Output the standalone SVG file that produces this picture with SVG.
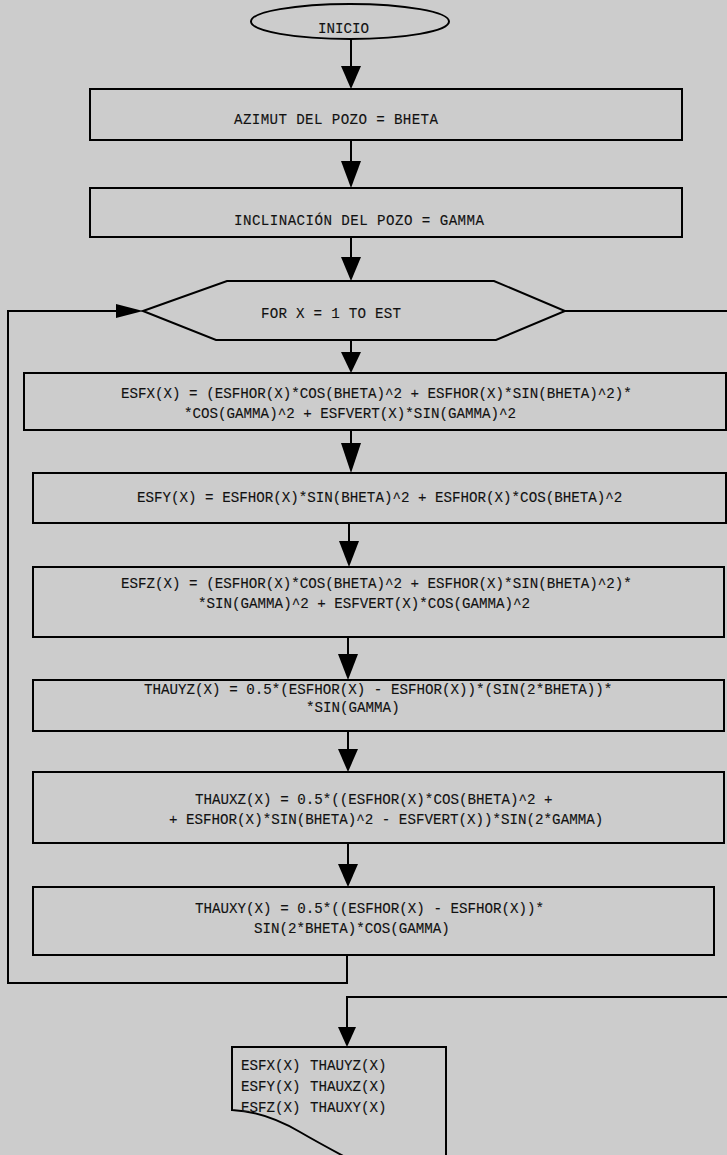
<svg xmlns="http://www.w3.org/2000/svg" width="727" height="1155" viewBox="0 0 727 1155">
  <style>
    .shape { fill: none; stroke: #000; stroke-width: 2; }
    .line { fill: none; stroke: #000; stroke-width: 2; }
    .head { fill: #000; stroke: none; }
    text { font-family: "Liberation Mono", "DejaVu Sans Mono", monospace; font-size: 14.2px; fill: #111; stroke: #111; stroke-width: 0.12; }
  </style>
  <rect width="727" height="1155" fill="#cccccc"/>

  <!-- start terminal -->
  <g id="inicio">
    <ellipse class="shape" cx="350" cy="21.5" rx="99" ry="17.5"/>
    <text x="318" y="33">INICIO</text>
  </g>

  <g id="azimut">
    <rect class="shape" x="90" y="89" width="592" height="51"/>
    <text x="234" y="124" textLength="204">AZIMUT DEL POZO = BHETA</text>
  </g>

  <g id="inclinacion">
    <rect class="shape" x="90" y="188" width="592" height="49"/>
    <text x="234" y="225" textLength="250">INCLINACIÓN DEL POZO = GAMMA</text>
  </g>

  <!-- loop header -->
  <g id="for-loop">
    <polygon class="shape" points="143,311 227,281 494,281 565,311 496,340 216,340"/>
    <text x="261" y="318" textLength="140">FOR X = 1 TO EST</text>
  </g>

  <g id="esfx">
    <rect class="shape" x="24" y="373" width="702" height="57"/>
    <text x="121" y="398">ESFX(X) = (ESFHOR(X)*COS(BHETA)^2 + ESFHOR(X)*SIN(BHETA)^2)*</text>
    <text x="184" y="418">*COS(GAMMA)^2 + ESFVERT(X)*SIN(GAMMA)^2</text>
  </g>

  <g id="esfy">
    <rect class="shape" x="33" y="473" width="693" height="50"/>
    <text x="137" y="502">ESFY(X) = ESFHOR(X)*SIN(BHETA)^2 + ESFHOR(X)*COS(BHETA)^2</text>
  </g>

  <g id="esfz">
    <rect class="shape" x="33" y="567" width="691" height="70"/>
    <text x="121" y="588">ESFZ(X) = (ESFHOR(X)*COS(BHETA)^2 + ESFHOR(X)*SIN(BHETA)^2)*</text>
    <text x="198" y="608">*SIN(GAMMA)^2 + ESFVERT(X)*COS(GAMMA)^2</text>
  </g>

  <g id="thauyz">
    <rect class="shape" x="33" y="680" width="691" height="51"/>
    <text x="144" y="694">THAUYZ(X) = 0.5*(ESFHOR(X) - ESFHOR(X))*(SIN(2*BHETA))*</text>
    <text x="306" y="712">*SIN(GAMMA)</text>
  </g>

  <g id="thauxz">
    <rect class="shape" x="33" y="772" width="691" height="71"/>
    <text x="195" y="804">THAUXZ(X) = 0.5*((ESFHOR(X)*COS(BHETA)^2 +</text>
    <text x="169" y="824">+ ESFHOR(X)*SIN(BHETA)^2 - ESFVERT(X))*SIN(2*GAMMA)</text>
  </g>

  <g id="thauxy">
    <rect class="shape" x="33" y="887" width="681" height="68"/>
    <text x="195" y="913">THAUXY(X) = 0.5*((ESFHOR(X) - ESFHOR(X))*</text>
    <text x="254" y="933">SIN(2*BHETA)*COS(GAMMA)</text>
  </g>

  <!-- printed results (document shape, runs past the page bottom) -->
  <g id="salida">
    <path class="shape" d="M232,1111 L232,1047 L446,1047 L446,1170 M232,1110 C255,1111 276,1118 300,1132 S340,1154 362,1166"/>
    <text x="241" y="1070">ESFX(X)</text>
    <text x="310" y="1070">THAUYZ(X)</text>
    <text x="241" y="1091">ESFY(X)</text>
    <text x="310" y="1091">THAUXZ(X)</text>
    <text x="241" y="1112">ESFZ(X)</text>
    <text x="310" y="1112">THAUXY(X)</text>
  </g>

  <g id="connectors">
    <line class="line" x1="351" y1="39" x2="351" y2="72"/>
    <polygon class="head" points="341,66 361,66 351,89"/>
    <line class="line" x1="351" y1="140" x2="351" y2="165"/>
    <polygon class="head" points="341,161 361,161 351,188"/>
    <line class="line" x1="351" y1="237" x2="351" y2="262"/>
    <polygon class="head" points="341,257 361,257 351,281"/>
    <line class="line" x1="351" y1="340" x2="351" y2="356"/>
    <polygon class="head" points="341,352 361,352 351,373"/>
    <line class="line" x1="351" y1="430" x2="351" y2="446"/>
    <polygon class="head" points="341,443 361,443 351,473"/>
    <line class="line" x1="349" y1="523" x2="349" y2="545"/>
    <polygon class="head" points="339,541 359,541 349,567"/>
    <line class="line" x1="348" y1="637" x2="348" y2="657"/>
    <polygon class="head" points="338,654 358,654 348,680"/>
    <line class="line" x1="348" y1="731" x2="348" y2="752"/>
    <polygon class="head" points="338,749 358,749 348,772"/>
    <line class="line" x1="348" y1="843" x2="348" y2="868"/>
    <polygon class="head" points="338,864 358,864 348,887"/>
    <!-- loop back to FOR -->
    <polyline class="line" points="347,955 347,983 8,983 8,311 120,311"/>
    <polygon class="head" points="116,304 116,318 143,311"/>
    <!-- loop exit -->
    <line class="line" x1="565" y1="311" x2="727" y2="311"/>
    <polyline class="line" points="727,997 347,997 347,1030"/>
    <polygon class="head" points="338,1027 356,1027 347,1047"/>
  </g>
</svg>
